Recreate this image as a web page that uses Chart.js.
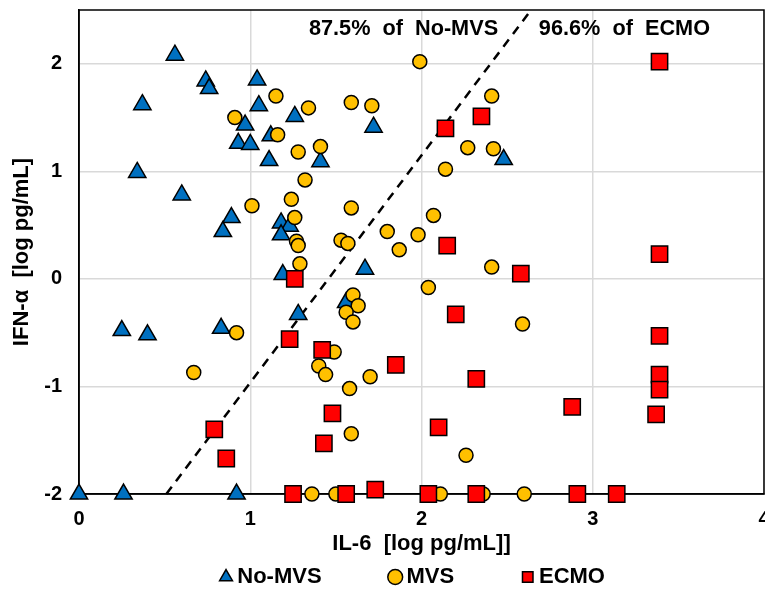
<!DOCTYPE html>
<html>
<head>
<meta charset="utf-8">
<script src="https://cdn.jsdelivr.net/npm/chart.js@4.4.1/dist/chart.umd.min.js"></script>
<style>
html,body{margin:0;padding:0;overflow:hidden;background:#ffffff;}
canvas{display:block;}
</style>
</head>
<body>
<canvas id="c" width="765" height="592"></canvas>
<script>
// ---- data ----
const noMvsX = [0.56,0.74,0.76,1.04,0.37,1.05,1.26,0.97,0.93,1.00,1.12,1.11,0.34,0.60,0.89,0.84,1.18,1.23,1.18,1.72,1.41,2.48,1.19,1.28,0.25,0.40,0.83,0,0.26,0.92,1.67,1.56];
const noMvsY = [2.08,1.84,1.77,1.85,1.62,1.61,1.51,1.43,1.26,1.25,1.33,1.10,0.99,0.78,0.57,0.44,0.52,0.49,0.41,1.41,1.09,1.11,0.04,-0.33,-0.48,-0.52,-0.46,-2,-2,-2,0.09,-0.22];

const mvsX = [1.15,1.34,0.91,1.16,1.28,1.41,1.32,1.01,1.24,1.26,1.27,1.28,1.29,1.99,1.59,1.71,2.41,2.27,2.42,2.14,1.59,2.07,1.80,1.98,1.87,1.53,1.57,2.41,2.04,2.59,1.60,1.63,1.56,1.60,1.49,1.40,1.44,1.70,1.58,1.59,2.26,0.92,0.67,1.36,1.50,2.11,2.36,2.60];
const mvsY = [1.70,1.59,1.50,1.34,1.18,1.23,0.92,0.68,0.74,0.57,0.35,0.31,0.14,2.02,1.64,1.61,1.70,1.22,1.21,1.02,0.66,0.59,0.44,0.41,0.27,0.36,0.33,0.11,-0.08,-0.42,-0.15,-0.25,-0.31,-0.40,-0.68,-0.81,-0.89,-0.91,-1.02,-1.44,-1.64,-0.50,-0.87,-2,-2,-2,-2,-2];

const ecmoX = [2.14,2.35,2.15,2.58,1.26,2.20,1.23,1.42,1.85,2.32,1.48,1.43,2.10,0.86,0.79,1.25,1.56,1.73,2.04,2.32,3.39,3.39,3.39,3.39,3.39,3.37,2.88,2.91,3.14];
const ecmoY = [1.40,1.51,0.31,0.05,0.00,-0.33,-0.56,-0.66,-0.80,-0.93,-1.25,-1.53,-1.38,-1.67,-1.40,-2,-2,-1.96,-2,-2,2.02,0.23,-0.53,-0.89,-1.03,-1.26,-1.19,-2,-2];

const dividerX = [0.51, 2.64];
const dividerY = [-2, 2.5];

const seriesNames = ['No-MVS', 'MVS', 'ECMO'];
const shareTexts = ['87.5%  of  No-MVS', '96.6%  of  ECMO'];
const xTicks = [0, 1, 2, 3, 4];
const yTicks = [-2, -1, 0, 1, 2];

const xTitle = 'IL-6  [log pg/mL]]';
const yTitle = 'IFN-\u03b1  [log pg/mL]';

// ---- helpers ----
const toPts = (xs, ys) => xs.map((x, i) => ({x: x, y: ys[i]}));
const FONT = "'Liberation Sans', Arial, sans-serif";
const legendGaps = [' '.repeat(12), ' '.repeat(12), ' '.repeat(2)];

const framePlugin = {
  id: 'frameAndShares',
  beforeDatasetsDraw(chart) {
    const {ctx, chartArea: a} = chart;
    ctx.save();
    ctx.strokeStyle = '#000';
    ctx.lineWidth = 1.5;
    ctx.strokeRect(a.left, a.top, a.right - a.left, a.bottom - a.top);
    ctx.restore();
  },
  afterDatasetsDraw(chart, args, opts) {
    const {ctx, scales: {x, y}} = chart;
    ctx.save();
    ctx.fillStyle = '#000';
    ctx.font = 'bold 21.7px ' + FONT;
    ctx.textAlign = 'center';
    ctx.textBaseline = 'middle';
    opts.items.forEach(it => {
      ctx.fillText(it.text, x.getPixelForValue(it.x), y.getPixelForValue(it.y));
    });
    ctx.restore();
  }
};

new Chart(document.getElementById('c'), {
  type: 'scatter',
  data: {
    datasets: [
      {label: seriesNames[0], data: toPts(noMvsX, noMvsY), pointStyle: 'triangle', pointRadius: 10, pointHoverRadius: 10,
       backgroundColor: '#0070C0', borderColor: '#000', borderWidth: 1.5, order: 3, clip: false},
      {label: seriesNames[1], data: toPts(mvsX, mvsY), pointStyle: 'circle', pointRadius: 7, pointHoverRadius: 7,
       backgroundColor: '#FFC000', borderColor: '#000', borderWidth: 1.5, order: 2, clip: false},
      {label: seriesNames[2], data: toPts(ecmoX, ecmoY), pointStyle: 'rect', pointRadius: 11.5, pointHoverRadius: 11.5,
       backgroundColor: '#FF0000', borderColor: '#000', borderWidth: 1.5, order: 1, clip: false},
      {label: '', type: 'line', data: toPts(dividerX, dividerY), showLine: true, borderColor: '#000', borderWidth: 2.5,
       borderDash: [9, 7], pointRadius: 0, pointHoverRadius: 0, fill: false, order: 4, clip: false}
    ]
  },
  options: {
    responsive: false,
    animation: false,
    layout: {autoPadding: false, padding: {top: 10, right: 1, left: 0, bottom: 0}},
    scales: {
      x: {
        type: 'linear', min: 0, max: 4,
        afterFit(s) { s.height = 72; s.paddingLeft = 0; s.paddingRight = 0; },
        afterBuildTicks(s) { s.ticks = xTicks.map(v => ({value: v})); },
        grid: {color: '#d9d9d9', lineWidth: 1.5, drawTicks: false},
        border: {color: '#000', width: 1.5},
        ticks: {padding: 13, color: '#000', font: {family: FONT, size: 20, weight: 'bold'}},
        title: {display: true, text: xTitle, color: '#000', font: {family: FONT, size: 22, weight: 'bold'}, padding: {top: 0, bottom: 8.8}}
      },
      y: {
        type: 'linear', min: -2, max: 2.5,
        afterFit(s) { s.width = 79; s.paddingTop = 0; s.paddingBottom = 0; },
        afterBuildTicks(s) { s.ticks = yTicks.map(v => ({value: v})); },
        grid: {color: '#d9d9d9', lineWidth: 1.5, drawTicks: false},
        border: {color: '#000', width: 1.5},
        ticks: {padding: 17, color: '#000', font: {family: FONT, size: 20, weight: 'bold'}},
        title: {display: true, text: yTitle, color: '#000', font: {family: FONT, size: 22, weight: 'bold'}, padding: {top: 8.8, bottom: 0}}
      }
    },
    plugins: {
      tooltip: {enabled: false},
      frameAndShares: {items: [
        {text: shareTexts[0], x: 1.895, y: 2.32},
        {text: shareTexts[1], x: 3.185, y: 2.32}
      ]},
      legend: {
        position: 'bottom',
        fullSize: false,
        maxHeight: 26,
        labels: {
          usePointStyle: true,
          boxHeight: 10.5,
          boxWidth: 0.5,
          padding: 0,
          color: '#000',
          font: {family: FONT, size: 22, weight: 'bold'},
          generateLabels(chart) {
            const items = Chart.defaults.plugins.legend.labels.generateLabels(chart);
            return items.filter(i => i.datasetIndex < 3)
              .sort((a, b) => a.datasetIndex - b.datasetIndex)
              .map(i => { i.text = i.text + legendGaps[i.datasetIndex]; return i; });
          }
        }
      }
    }
  },
  plugins: [framePlugin]
});
</script>
</body>
</html>
